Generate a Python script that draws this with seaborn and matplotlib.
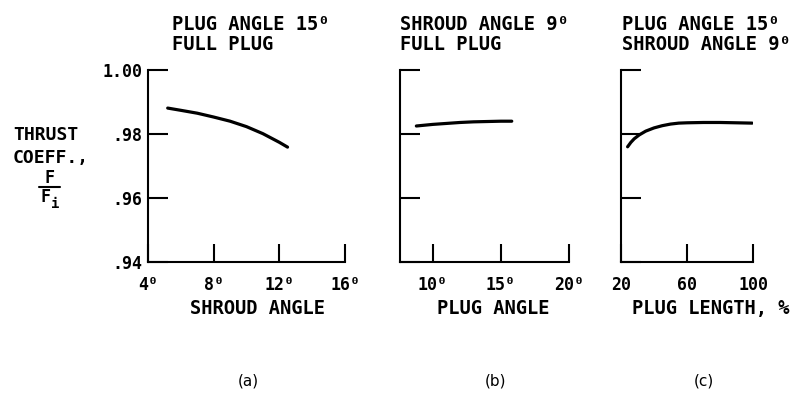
import matplotlib
matplotlib.use("Agg")
import matplotlib.pyplot as plt
from matplotlib.lines import Line2D
import seaborn as sns
import pandas as pd

# ---- data ----
shroud_angle = [5.2, 6, 7, 8, 9, 10, 11, 12, 12.5]
thrust_a = [0.9881, 0.9874, 0.9865, 0.9853, 0.9840, 0.9823, 0.9801, 0.9774, 0.9759]

plug_angle = [8.8, 10, 11, 12, 13, 14, 15, 15.8]
thrust_b = [0.9825, 0.9830, 0.9833, 0.9836, 0.9838, 0.9839, 0.9840, 0.9840]

plug_length = [24, 26, 28, 31, 35, 40, 45, 50, 55, 60, 70, 80, 90, 99.5]
thrust_c = [0.9760, 0.9774, 0.9785, 0.9797, 0.9809, 0.9819, 0.9826, 0.9831,
            0.9834, 0.9835, 0.9836, 0.9836, 0.9835, 0.9834]

xticks_a = [4, 8, 12, 16]
xticklabels_a = ["4⁰", "8⁰", "12⁰", "16⁰"]
xticks_b = [10, 15, 20]
xticklabels_b = ["10⁰", "15⁰", "20⁰"]
xticks_c = [20, 60, 100]
xticklabels_c = ["20", "60", "100"]
yticks = [0.94, 0.96, 0.98, 1.00]
yticklabels = [".94", ".96", ".98", "1.00"]

titles = [("PLUG ANGLE 15⁰", "FULL PLUG"),
          ("SHROUD ANGLE 9⁰", "FULL PLUG"),
          ("PLUG ANGLE 15⁰", "SHROUD ANGLE 9⁰")]
xlabels = ["SHROUD ANGLE", "PLUG ANGLE", "PLUG LENGTH, %"]
panel_tags = ["(a)", "(b)", "(c)"]

# ---- style ----
sns.set_style("white")
plt.rcParams["font.family"] = ["DejaVu Sans Mono", "DejaVu Sans"]
plt.rcParams["font.weight"] = "bold"
plt.rcParams["text.color"] = "black"

W, H = 807, 393
fig = plt.figure(figsize=(W / 100, H / 100), dpi=100)

def fx(px):
    return px / W

def fy(py):
    return 1 - py / H

bottom_px, top_px = 262, 70
panels = [
    dict(left=148, right=345, xlim=(4, 16), x=shroud_angle, y=thrust_a,
         xt=xticks_a, xtl=xticklabels_a, title_x=172, xlabel_cx=257, tag_cx=248),
    dict(left=400, right=569, xlim=(7.6, 20), x=plug_angle, y=thrust_b,
         xt=xticks_b, xtl=xticklabels_b, title_x=400, xlabel_cx=493, tag_cx=496),
    dict(left=621, right=753, xlim=(20, 100), x=plug_length, y=thrust_c,
         xt=xticks_c, xtl=xticklabels_c, title_x=622, xlabel_cx=711, tag_cx=704),
]

for i, p in enumerate(panels):
    ax = fig.add_axes([fx(p["left"]), fy(bottom_px), (p["right"] - p["left"]) / W,
                       (bottom_px - top_px) / H])
    df = pd.DataFrame({"x": p["x"], "y": p["y"]})
    sns.lineplot(data=df, x="x", y="y", ax=ax, color="black", linewidth=2.3,
                 sort=False, estimator=None)
    ax.set_xlim(*p["xlim"])
    ax.set_ylim(0.94, 1.00)
    ax.set_xticks(p["xt"])
    ax.set_xticklabels(p["xtl"], fontsize=12, fontweight="bold")
    ax.set_yticks(yticks)
    if i == 0:
        ax.set_yticklabels(yticklabels, fontsize=12, fontweight="bold")
    else:
        ax.set_yticklabels([])
    ax.set_xlabel("")
    ax.set_ylabel("")
    for s in ["top", "right"]:
        ax.spines[s].set_visible(False)
    for s in ["left", "bottom"]:
        ax.spines[s].set_linewidth(1.5)
        ax.spines[s].set_color("black")
    ax.tick_params(axis="y", direction="in", length=14.5, width=1.5, pad=4,
                   colors="black", left=True)
    ax.tick_params(axis="x", direction="in", length=13, width=1.5, pad=10,
                   colors="black", bottom=True)
    ax.patch.set_visible(False)

    # titles (two lines)
    fig.text(fx(p["title_x"]), fy(30), titles[i][0], fontsize=13.5,
             va="baseline", ha="left")
    fig.text(fx(p["title_x"]), fy(50), titles[i][1], fontsize=13.5,
             va="baseline", ha="left")
    # x label
    fig.text(fx(p["xlabel_cx"]), fy(314), xlabels[i], fontsize=13.5,
             va="baseline", ha="center")
    # panel tag
    fig.text(fx(p["tag_cx"]), fy(386), panel_tags[i], fontsize=11,
             family="DejaVu Sans", fontweight="normal", va="baseline", ha="center")

# y axis label
fig.text(fx(13), fy(140), "THRUST", fontsize=13, va="baseline", ha="left")
fig.text(fx(13), fy(163), "COEFF.,", fontsize=13, va="baseline", ha="left")
fig.text(fx(49), fy(183), "F", fontsize=12, va="baseline", ha="center")
fig.add_artist(Line2D([fx(39), fx(60)], [fy(187), fy(187)], color="black",
                      linewidth=1.5, transform=fig.transFigure))
fig.text(fx(45), fy(202), "F", fontsize=12, va="baseline", ha="center")
fig.text(fx(55.5), fy(208), "i", fontsize=10, va="baseline", ha="center")

fig.savefig("out.png", dpi=100, facecolor="white")
